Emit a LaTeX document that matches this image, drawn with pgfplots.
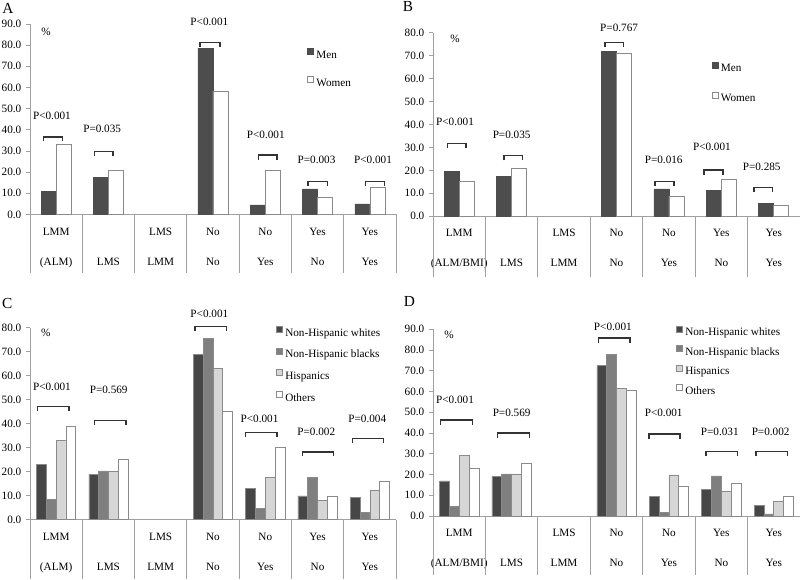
\documentclass[border=0pt]{standalone}
\usepackage{pgfplots}
\pgfplotsset{compat=1.18}
\usepackage{fontspec}
\setmainfont{Liberation Serif}
\definecolor{men}{HTML}{4D4D4D}
\definecolor{edge}{HTML}{8A8A8A}
\definecolor{axisgray}{HTML}{A0A0A0}
\definecolor{cw}{HTML}{464646}
\definecolor{cb}{HTML}{7F7F7F}
\definecolor{ch}{HTML}{D6D6D6}
\newcommand\ffs{\fontsize{8.4}{10}\selectfont}
\newcommand\pb[6]{%
 \draw[line width=1.1pt, black!80] ([yshift=-3.5pt]axis cs:#1,#3) -- (axis cs:#1,#3) -- (axis cs:#2,#3) -- ([yshift=-3.5pt]axis cs:#2,#3);
 \node[font=\ffs, inner sep=0pt] at (axis cs:#4,#5) {#6};}
\newcommand\seps[1]{%
 \draw[axisgray, line width=0.6pt] (axis cs:0,0) -- ++(0,-#1) (axis cs:1,0) -- ++(0,-#1)
   (axis cs:2,0) -- ++(0,-#1) (axis cs:3,0) -- ++(0,-#1) (axis cs:4,0) -- ++(0,-#1)
   (axis cs:5,0) -- ++(0,-#1) (axis cs:6,0) -- ++(0,-#1) (axis cs:7,0) -- ++(0,-#1);}
\pgfplotsset{
 panel/.style={
  scale only axis, anchor=south west,
  xmin=0, xmax=7, ymin=0,
  axis x line=bottom, axis y line=left,
  axis line style={draw=axisgray, line width=0.6pt, -},
  xtick={0.5,1.5,2.5,3.5,4.5,5.5,6.5}, xtick style={draw=none},
  extra x ticks={0.5,1.5,2.5,3.5,4.5,5.5,6.5},
  extra x tick style={xticklabel style={yshift=-22.5pt}},
  ytick style={draw=axisgray, line width=0.6pt}, tick align=outside, major tick length=3pt,
  yticklabel style={font=\ffs, /pgf/number format/.cd, fixed, fixed zerofill, precision=1, assume math mode=true},
  xticklabel style={font=\ffs, anchor=base, inner sep=0pt, yshift=-12.5pt},
  clip=false,
  legend cell align=left,
  legend image code/.code={\draw[##1, line width=0.5pt] (0pt,0.6pt) rectangle (4.5pt,5.1pt);},
  legend style={draw=none, fill=none, font=\ffs, inner sep=0pt, outer sep=0pt, anchor=north west,
    column sep=2pt, nodes={inner sep=0pt, text height=6pt, text depth=1.5pt}},
 },
 mbar/.style={ybar, bar width=0.287, bar shift=-0.1435, fill=men, draw=men, line width=0.5pt},
 wbar/.style={ybar, bar width=0.287, bar shift=0.1435, fill=white, draw=edge, line width=0.5pt},
 r1/.style={ybar, bar width=0.1875, bar shift=-0.281, fill=cw, draw=edge, line width=0.5pt},
 r2/.style={ybar, bar width=0.1875, bar shift=-0.094, fill=cb, draw=edge, line width=0.5pt},
 r3/.style={ybar, bar width=0.1875, bar shift=0.094, fill=ch, draw=edge, line width=0.5pt},
 r4/.style={ybar, bar width=0.1875, bar shift=0.281, fill=white, draw=edge, line width=0.5pt},
}
\begin{document}
\begin{tikzpicture}
\path[use as bounding box] (0,0) rectangle (600pt,434.25pt);
% ---------------- A
\begin{axis}[panel, at={(22.5pt,273.375pt)}, width=274.5pt, height=142.875pt,
  ymax=90, ytick={0,10,...,90},
  xticklabels={LMM,{},LMS,No,No,Yes,Yes},
  extra x tick labels={(ALM),LMS,LMM,No,Yes,No,Yes},
  legend style={at={(axis description cs:0.757,0.874)}, row sep=12pt}]
\addplot[mbar] coordinates {(0.5,11.1)(1.5,17.5)(3.5,78.5)(4.5,4.5)(5.5,12.1)(6.5,5.0)};
\addplot[wbar] coordinates {(0.5,33.2)(1.5,21.1)(3.5,58.3)(4.5,20.8)(5.5,8.1)(6.5,12.8)};
\legend{Men,Women}
\seps{44pt}
\node[font=\ffs] at (axis cs:0.306,86.2) {\%};
\pb{0.254}{0.625}{36.7}{0.42}{46.5}{P<0.001}
\pb{1.23}{1.59}{29.7}{1.38}{40.4}{P=0.035}
\pb{3.25}{3.63}{81.3}{3.43}{91}{P<0.001}
\pb{4.37}{4.72}{28.1}{4.51}{37.6}{P<0.001}
\pb{5.32}{5.69}{15.5}{5.48}{25.7}{P=0.003}
\pb{6.42}{6.78}{15.5}{6.56}{25.7}{P<0.001}
\end{axis}
% ---------------- B
\begin{axis}[panel, at={(324.75pt,272.025pt)}, width=275.25pt, height=137.7pt,
  ymax=80, ytick={0,10,...,80},
  xticklabels={LMM,{},LMS,No,No,Yes,Yes},
  extra x tick labels={(ALM/BMI),LMS,LMM,No,Yes,No,Yes},
  legend style={at={(axis description cs:0.759,0.842)}, row sep=13.5pt}]
\addplot[mbar] coordinates {(0.5,19.4)(1.5,17.5)(3.5,71.7)(4.5,11.9)(5.5,11.2)(6.5,5.7)};
\addplot[wbar] coordinates {(0.5,15.1)(1.5,21.1)(3.5,71.2)(4.5,8.7)(5.5,16.0)(6.5,4.6)};
\legend{Men,Women}
\seps{45.5pt}
\node[font=\ffs] at (axis cs:0.42,77.3) {\%};
\pb{0.273}{0.629}{31.8}{0.42}{41}{P<0.001}
\pb{1.354}{1.711}{26.4}{1.50}{35.4}{P=0.035}
\pb{3.28}{3.63}{75.8}{3.55}{82.2}{P=0.767}
\pb{4.23}{4.60}{15.1}{4.40}{24.5}{P=0.016}
\pb{5.17}{5.53}{20.2}{5.32}{30.3}{P<0.001}
\pb{6.12}{6.48}{12.5}{6.27}{21.6}{P=0.285}
\end{axis}
% ---------------- C
\begin{axis}[panel, at={(22.5pt,44.475pt)}, width=274.5pt, height=144pt,
  ymax=80, ytick={0,10,...,80},
  xticklabels={LMM,{},LMS,No,No,Yes,Yes},
  extra x tick labels={(ALM),LMS,LMM,No,Yes,No,Yes},
  legend style={at={(axis description cs:0.672,1.009)}, row sep=7.2pt}]
\addplot[r1] coordinates {(0.5,22.9)(1.5,19.0)(3.5,68.9)(4.5,12.9)(5.5,9.9)(6.5,9.2)};
\addplot[r2] coordinates {(0.5,8.5)(1.5,20.3)(3.5,75.6)(4.5,4.6)(5.5,17.5)(6.5,3.1)};
\addplot[r3] coordinates {(0.5,33.2)(1.5,20.3)(3.5,63.1)(4.5,17.5)(5.5,8.1)(6.5,12.1)};
\addplot[r4] coordinates {(0.5,39.0)(1.5,25.3)(3.5,45.3)(4.5,30.2)(5.5,9.6)(6.5,15.8)};
\legend{Non-Hispanic whites,Non-Hispanic blacks,Hispanics,Others}
\seps{44.5pt}
\node[font=\ffs] at (axis cs:0.30,77.8) {\%};
\pb{0.14}{0.746}{47.1}{0.42}{55.4}{P<0.001}
\pb{1.23}{1.836}{41.3}{1.505}{54.0}{P=0.569}
\pb{3.155}{3.76}{80.4}{3.43}{85.7}{P<0.001}
\pb{4.125}{4.72}{36.3}{4.39}{42.2}{P<0.001}
\pb{5.21}{5.80}{28.3}{5.475}{36.7}{P=0.002}
\pb{6.17}{6.76}{33.9}{6.45}{42.2}{P=0.004}
\end{axis}
% ---------------- D
\begin{axis}[panel, at={(324.75pt,47.25pt)}, width=275.25pt, height=140.025pt,
  ymax=90, ytick={0,10,...,90},
  xticklabels={LMM,{},LMS,No,No,Yes,Yes},
  extra x tick labels={(ALM/BMI),LMS,LMM,No,Yes,No,Yes},
  legend style={at={(axis description cs:0.662,1.019)}, row sep=5.45pt}]
\addplot[r1] coordinates {(0.5,16.9)(1.5,19.0)(3.5,72.5)(4.5,9.6)(5.5,13.0)(6.5,5.0)};
\addplot[r2] coordinates {(0.5,4.5)(1.5,20.3)(3.5,78.0)(4.5,1.8)(5.5,19.3)(6.5,1.0)};
\addplot[r3] coordinates {(0.5,29.1)(1.5,20.3)(3.5,61.7)(4.5,19.8)(5.5,12.0)(6.5,6.9)};
\addplot[r4] coordinates {(0.5,23.0)(1.5,25.2)(3.5,60.8)(4.5,14.5)(5.5,15.8)(6.5,9.6)};
\legend{Non-Hispanic whites,Non-Hispanic blacks,Hispanics,Others}
\seps{44.5pt}
\node[font=\ffs] at (axis cs:0.305,87.3) {\%};
\pb{0.147}{0.75}{46.3}{0.42}{55.9}{P<0.001}
\pb{1.226}{1.837}{39.9}{1.50}{49.8}{P=0.569}
\pb{3.153}{3.757}{85.7}{3.43}{91.3}{P<0.001}
\pb{4.12}{4.71}{39.5}{4.40}{49.5}{P<0.001}
\pb{5.207}{5.804}{31.0}{5.47}{40.6}{P=0.031}
\pb{6.16}{6.76}{31.0}{6.44}{40.6}{P=0.002}
\end{axis}
% panel letters
\node[font=\fontsize{11.5}{13}\selectfont, inner sep=0pt] at (6pt,428pt) {A};
\node[font=\fontsize{11.5}{13}\selectfont, inner sep=0pt] at (306pt,429pt) {B};
\node[font=\fontsize{11.5}{13}\selectfont, inner sep=0pt] at (5.5pt,207pt) {C};
\node[font=\fontsize{11.5}{13}\selectfont, inner sep=0pt] at (307pt,208pt) {D};
\end{tikzpicture}
\end{document}
